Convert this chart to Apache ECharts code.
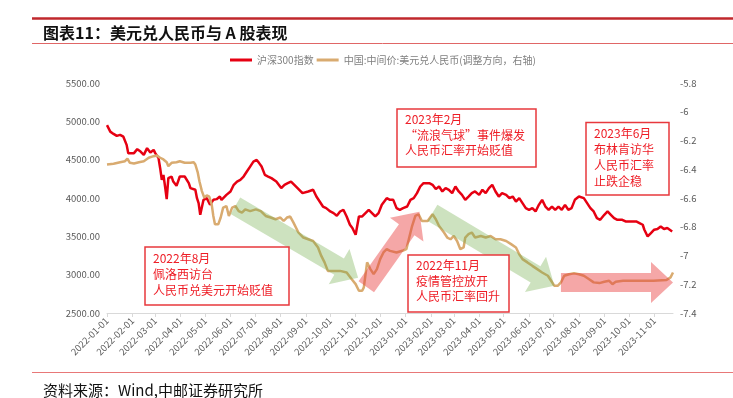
<!DOCTYPE html>
<html>
<head>
<meta charset="utf-8">
<title>图表11：美元兑人民币与A股表现</title>
<script src="https://cdn.jsdelivr.net/npm/echarts@6/dist/echarts.min.js"></script>
</head>
<body style="margin:0;background:#fff">
<div id="chart" style="width:733px;height:398px"></div>
<script>
// 沪深300指数 (左轴)
var hs300 = [
  ['2022-01-01',4950],['2022-01-05',4866],['2022-01-09',4836],['2022-01-13',4810],['2022-01-17',4823],['2022-01-21',4800],
  ['2022-01-25',4693],['2022-01-27',4585],['2022-02-03',4585],['2022-02-07',4637],['2022-02-11',4606],['2022-02-15',4563],
  ['2022-02-19',4650],['2022-02-23',4593],['2022-02-27',4628],['2022-03-01',4585],['2022-03-05',4520],['2022-03-07',4389],
  ['2022-03-09',4237],['2022-03-11',4302],['2022-03-13',4150],['2022-03-15',3985],['2022-03-17',4259],['2022-03-21',4280],
  ['2022-03-23',4215],['2022-03-27',4159],['2022-03-31',4280],['2022-04-06',4280],['2022-04-11',4194],['2022-04-13',4129],
  ['2022-04-19',4107],['2022-04-21',3998],['2022-04-23',3933],['2022-04-25',3781],['2022-04-29',3976],['2022-05-03',3998],
  ['2022-05-07',3911],['2022-05-11',3976],['2022-05-15',3985],['2022-05-19',4019],['2022-05-21',3976],['2022-05-27',4041],
  ['2022-06-01',4085],['2022-06-05',4172],['2022-06-09',4215],['2022-06-13',4237],['2022-06-17',4280],['2022-06-21',4345],
  ['2022-06-25',4410],['2022-06-29',4475],['2022-07-03',4497],['2022-07-06',4455],['2022-07-09',4410],['2022-07-13',4302],
  ['2022-07-17',4280],['2022-07-21',4259],['2022-07-27',4215],['2022-08-02',4129],['2022-08-06',4172],['2022-08-10',4194],
  ['2022-08-14',4215],['2022-08-18',4172],['2022-08-22',4129],['2022-08-28',4063],['2022-09-04',4085],['2022-09-10',4107],
  ['2022-09-14',4019],['2022-09-18',3954],['2022-09-22',3889],['2022-09-26',3868],['2022-10-01',3824],['2022-10-05',3803],
  ['2022-10-09',3768],['2022-10-13',3824],['2022-10-17',3846],['2022-10-21',3759],['2022-10-25',3651],['2022-10-28',3608],
  ['2022-11-01',3520],['2022-11-05',3759],['2022-11-09',3759],['2022-11-13',3803],['2022-11-17',3846],['2022-11-21',3803],
  ['2022-11-25',3759],['2022-11-29',3803],['2022-12-03',3911],['2022-12-09',3998],['2022-12-13',3976],['2022-12-17',3976],
  ['2022-12-21',3868],['2022-12-25',3846],['2022-12-29',3868],['2023-01-03',3889],['2023-01-07',3976],['2023-01-11',3998],
  ['2023-01-15',4063],['2023-01-19',4150],['2023-01-23',4194],['2023-01-30',4194],['2023-02-03',4172],['2023-02-07',4116],
  ['2023-02-11',4150],['2023-02-15',4085],['2023-02-19',4129],['2023-02-23',4107],['2023-02-27',4063],['2023-03-03',4150],
  ['2023-03-07',4085],['2023-03-11',4041],['2023-03-15',3976],['2023-03-19',4019],['2023-03-23',4063],['2023-03-27',4085],
  ['2023-04-01',4041],['2023-04-05',4107],['2023-04-09',4063],['2023-04-13',4129],['2023-04-17',4172],['2023-04-21',4085],
  ['2023-04-25',4019],['2023-04-29',4063],['2023-05-04',4041],['2023-05-08',3998],['2023-05-12',4019],['2023-05-16',3954],
  ['2023-05-20',3998],['2023-05-24',3933],['2023-05-28',3868],['2023-06-01',3846],['2023-06-05',3868],['2023-06-09',3824],
  ['2023-06-13',3911],['2023-06-17',3976],['2023-06-21',3889],['2023-06-25',3846],['2023-06-29',3889],['2023-07-03',3846],
  ['2023-07-07',3889],['2023-07-11',3846],['2023-07-15',3911],['2023-07-19',3846],['2023-07-23',3868],['2023-07-27',3976],
  ['2023-08-01',4019],['2023-08-07',3998],['2023-08-11',3933],['2023-08-15',3868],['2023-08-19',3824],['2023-08-23',3738],
  ['2023-08-27',3716],['2023-09-01',3781],['2023-09-05',3824],['2023-09-09',3781],['2023-09-13',3738],['2023-09-17',3716],
  ['2023-09-23',3716],['2023-09-27',3694],['2023-10-04',3694],['2023-10-10',3694],['2023-10-14',3673],['2023-10-18',3651],
  ['2023-10-20',3586],['2023-10-24',3498],['2023-10-28',3542],['2023-11-01',3586],['2023-11-05',3595],['2023-11-09',3629],
  ['2023-11-13',3595],['2023-11-17',3608],['2023-11-23',3564]
];

// 中间价:美元兑人民币, 调整方向取负 (右轴)
var usdcny = [
  ['2022-01-01',-6.367],['2022-01-09',-6.362],['2022-01-17',-6.351],['2022-01-23',-6.344],['2022-01-26',-6.327],['2022-01-29',-6.355],
  ['2022-02-03',-6.360],['2022-02-09',-6.351],['2022-02-15',-6.344],['2022-02-21',-6.320],['2022-02-27',-6.309],['2022-03-03',-6.304],
  ['2022-03-07',-6.320],['2022-03-11',-6.332],['2022-03-15',-6.351],['2022-03-17',-6.379],['2022-03-21',-6.355],['2022-03-27',-6.351],
  ['2022-03-31',-6.344],['2022-04-06',-6.355],['2022-04-13',-6.355],['2022-04-17',-6.351],['2022-04-19',-6.367],['2022-04-22',-6.424],
  ['2022-04-24',-6.483],['2022-04-27',-6.552],['2022-04-30',-6.598],['2022-05-03',-6.582],['2022-05-06',-6.591],['2022-05-09',-6.644],
  ['2022-05-11',-6.725],['2022-05-13',-6.783],['2022-05-17',-6.783],['2022-05-20',-6.736],['2022-05-23',-6.667],['2022-05-27',-6.656],
  ['2022-05-30',-6.725],['2022-06-03',-6.667],['2022-06-07',-6.656],['2022-06-11',-6.691],['2022-06-15',-6.702],['2022-06-19',-6.679],
  ['2022-06-25',-6.691],['2022-07-02',-6.679],['2022-07-08',-6.691],['2022-07-14',-6.725],['2022-07-20',-6.736],['2022-07-26',-6.748],
  ['2022-08-01',-6.736],['2022-08-05',-6.760],['2022-08-09',-6.736],['2022-08-13',-6.729],['2022-08-17',-6.771],['2022-08-23',-6.840],
  ['2022-08-29',-6.875],['2022-09-04',-6.887],['2022-09-10',-6.899],['2022-09-16',-6.944],['2022-09-20',-7.003],['2022-09-24',-7.048],
  ['2022-09-28',-7.107],['2022-10-05',-7.107],['2022-10-13',-7.107],['2022-10-21',-7.118],['2022-10-27',-7.164],['2022-11-01',-7.199],
  ['2022-11-05',-7.245],['2022-11-09',-7.245],['2022-11-11',-7.222],['2022-11-15',-7.048],['2022-11-19',-7.095],['2022-11-23',-7.130],
  ['2022-11-27',-7.095],['2022-12-01',-7.025],['2022-12-05',-6.979],['2022-12-09',-6.956],['2022-12-13',-6.968],['2022-12-21',-6.979],
  ['2022-12-29',-6.965],['2023-01-02',-6.956],['2023-01-05',-6.887],['2023-01-09',-6.795],['2023-01-13',-6.725],['2023-01-17',-6.713],
  ['2023-01-21',-6.760],['2023-01-28',-6.760],['2023-02-03',-6.713],['2023-02-07',-6.748],['2023-02-11',-6.795],['2023-02-17',-6.840],
  ['2023-02-21',-6.875],['2023-02-25',-6.887],['2023-03-01',-6.864],['2023-03-05',-6.899],['2023-03-09',-6.956],['2023-03-13',-6.944],
  ['2023-03-15',-6.875],['2023-03-19',-6.852],['2023-03-23',-6.840],['2023-03-27',-6.875],['2023-04-03',-6.864],['2023-04-09',-6.875],
  ['2023-04-15',-6.864],['2023-04-21',-6.887],['2023-04-27',-6.887],['2023-05-04',-6.899],['2023-05-10',-6.921],['2023-05-16',-6.944],
  ['2023-05-20',-6.991],['2023-05-24',-7.025],['2023-05-30',-7.048],['2023-06-05',-7.072],['2023-06-11',-7.095],['2023-06-17',-7.118],
  ['2023-06-24',-7.141],['2023-06-28',-7.176],['2023-07-02',-7.211],['2023-07-06',-7.211],['2023-07-10',-7.187],['2023-07-14',-7.141],
  ['2023-07-20',-7.130],['2023-07-26',-7.123],['2023-08-01',-7.130],['2023-08-07',-7.141],['2023-08-13',-7.164],['2023-08-19',-7.187],
  ['2023-08-26',-7.192],['2023-09-01',-7.183],['2023-09-07',-7.176],['2023-09-11',-7.199],['2023-09-15',-7.183],['2023-09-24',-7.176],
  ['2023-10-06',-7.176],['2023-10-18',-7.176],['2023-10-31',-7.176],['2023-11-16',-7.171],['2023-11-21',-7.152],['2023-11-24',-7.118]
];

var seriesNames = ['沪深300指数', '中国:中间价:美元兑人民币(调整方向，右轴)'];
var axisFirstDay = '2022-01-01';
var axisLastDay = '2023-11-24';

// 注释箭头 (起点 -> 终点, 左轴坐标)
var arrows = [
  { from: ['2022-06-07', 3898], to: ['2022-11-04', 2960], kind: 'down' },
  { from: ['2022-11-14', 2843], to: ['2023-01-18', 3820], kind: 'up' },
  { from: ['2023-02-03', 3807], to: ['2023-07-02', 2856], kind: 'down' },
  { from: ['2023-07-10', 2899], to: ['2023-11-24', 2899], kind: 'up' }
];

var notes = [
  ['2022年8月', '佩洛西访台', '人民币兑美元开始贬值'],
  ['2023年2月', '“流浪气球”事件爆发', '人民币汇率开始贬值'],
  ['2023年6月', '布林肯访华', '人民币汇率', '止跌企稳'],
  ['2022年11月', '疫情管控放开', '人民币汇率回升']
];

// 日历日类目
var days = [];
for (var t = Date.parse(axisFirstDay + 'T00:00:00Z'); t <= Date.parse(axisLastDay + 'T00:00:00Z'); t += 86400000) {
  days.push(new Date(t).toISOString().slice(0, 10));
}
function isMonthStart(i, v) { return v.slice(8) === '01'; }

var arrowFill = { down: 'rgba(112,173,71,0.35)', up: 'rgba(232,60,60,0.45)' };

function noteBox(x, y, w, h, lines, lh) {
  return {
    type: 'group', z: 100,
    children: [
      { type: 'rect', z: 100, shape: { x: x, y: y, width: w, height: h },
        style: { fill: '#fff', stroke: '#e8383d', lineWidth: 1.5 } },
      { type: 'text', z: 101,
        style: { x: x + 8, y: y + 3, text: lines.join('\n'), fill: '#ee1c25',
                 fontSize: 12, lineHeight: lh, fontFamily: 'Noto Sans CJK SC', verticalAlign: 'top' } }
    ]
  };
}

var myChart = echarts.init(document.getElementById('chart'));
var option = {
  animation: false,
  backgroundColor: '#fff',
  textStyle: { fontFamily: '"Noto Sans CJK SC", "Liberation Sans", sans-serif' },
  legend: {
    data: seriesNames, left: 230, top: 55, padding: 0, itemGap: 3,
    icon: 'rect', itemWidth: 22, itemHeight: 3,
    textStyle: { fontSize: 10, color: '#7f7f7f' }
  },
  grid: { left: 107, right: 60, top: 83, bottom: 85, containLabel: false, outerBoundsMode: 'none' },
  xAxis: {
    type: 'category', data: days, boundaryGap: false,
    axisLine: { lineStyle: { color: '#d9d9d9' } },
    axisTick: { interval: isMonthStart, length: 4, lineStyle: { color: '#d9d9d9' } },
    axisLabel: { interval: isMonthStart, rotate: 45, fontSize: 9.5, color: '#595959', margin: 6 },
    splitLine: { show: false }
  },
  yAxis: [
    { type: 'value', min: 2500, max: 5500, interval: 500,
      axisLine: { show: false }, axisTick: { show: false }, splitLine: { show: false },
      axisLabel: { fontSize: 9.5, color: '#595959', margin: 7,
        formatter: function (v) { return v.toFixed(2); } } },
    { type: 'value', position: 'right', min: -7.4, max: -5.8, interval: 0.2,
      axisLine: { show: false }, axisTick: { show: false }, splitLine: { show: false },
      axisLabel: { fontSize: 9.5, color: '#595959', margin: 7,
        formatter: function (v) { return String(Math.round(v * 10) / 10); } } }
  ],
  series: [
    { name: seriesNames[0], type: 'line', yAxisIndex: 0, data: hs300, symbol: 'none',
      color: '#e60012', lineStyle: { width: 2.5, color: '#e60012' }, z: 3 },
    { name: seriesNames[1], type: 'line', yAxisIndex: 1, data: usdcny, symbol: 'none',
      color: '#d9ab70', lineStyle: { width: 2.5, color: '#d9ab70' }, z: 4 },
    { name: 'arrows', type: 'custom', yAxisIndex: 0, z: 6, silent: true,
      data: arrows.map(function (a) {
        return [days.indexOf(a.from[0]), a.from[1], days.indexOf(a.to[0]), a.to[1]];
      }),
      encode: { x: [0, 2], y: [1, 3] },
      renderItem: function (params, api) {
        var p0 = api.coord([api.value(0), api.value(1)]);
        var p1 = api.coord([api.value(2), api.value(3)]);
        var dx = p1[0] - p0[0], dy = p1[1] - p0[1];
        var len = Math.sqrt(dx * dx + dy * dy);
        var ux = dx / len, uy = dy / len, nx = -uy, ny = ux;
        var w = 9.5, hw = 20.5, hl = 22;
        var bx = p1[0] - ux * hl, by = p1[1] - uy * hl;
        var pts = [
          [p0[0] + nx * w, p0[1] + ny * w],
          [bx + nx * w, by + ny * w],
          [bx + nx * hw, by + ny * hw],
          [p1[0], p1[1]],
          [bx - nx * hw, by - ny * hw],
          [bx - nx * w, by - ny * w],
          [p0[0] - nx * w, p0[1] - ny * w]
        ];
        return { type: 'polygon', shape: { points: pts },
          style: { fill: arrowFill[arrows[params.dataIndex].kind] } };
      }
    }
  ],
  graphic: [
    { type: 'line', z: 100, shape: { x1: 32, y1: 18.5, x2: 733, y2: 18.5 },
      style: { stroke: '#c0282d', lineWidth: 2.5 } },
    { type: 'text', z: 100,
      style: { x: 43, y: 32.5, text: '图表11：美元兑人民币与 A 股表现', fill: '#111',
               fontSize: 16, fontWeight: 'bold', fontFamily: 'Noto Sans CJK SC', verticalAlign: 'middle' } },
    { type: 'line', z: 100, shape: { x1: 32, y1: 43.5, x2: 733, y2: 43.5 },
      style: { stroke: '#e06666', lineWidth: 1 } },
    { type: 'line', z: 100, shape: { x1: 32, y1: 372.5, x2: 733, y2: 372.5 },
      style: { stroke: '#e87878', lineWidth: 1.2 } },
    { type: 'text', z: 100,
      style: { x: 43, y: 390, text: '资料来源：Wind,中邮证券研究所', fill: '#111',
               fontSize: 15, fontFamily: 'Noto Sans CJK SC', verticalAlign: 'middle' } },
    noteBox(145, 247, 144, 58, notes[0], 16),
    noteBox(397, 109, 139, 58, notes[1], 15.5),
    noteBox(586, 122.5, 83, 72.5, notes[2], 16),
    noteBox(408, 255, 101, 57, notes[3], 15.5)
  ]
};
myChart.setOption(option);
</script>
</body>
</html>
